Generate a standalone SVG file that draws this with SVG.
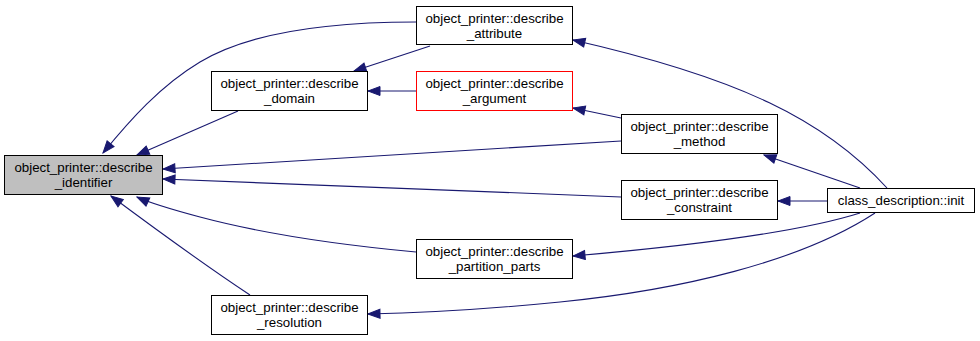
<svg xmlns="http://www.w3.org/2000/svg" width="980" height="341" viewBox="0 0 980 341">
  <style>
    .node rect { fill: #ffffff; stroke: #000000; stroke-width: 1; }
    .node.focus rect { fill: #bfbfbf; }
    .node.red rect { stroke: #ff0000; }
    .node text { font-family: "Liberation Sans", Arial, sans-serif; font-size: 13.3px; fill: #000000; text-anchor: middle; }
    .edge { fill: none; stroke: #191970; stroke-width: 1.1; marker-end: url(#arrow); }
  </style>
  <defs>
    <marker id="arrow" markerUnits="userSpaceOnUse" markerWidth="14" markerHeight="11" viewBox="0 0 14 11" refX="13" refY="5.5" orient="auto">
      <path d="M1,1 L13,5.5 L1,10 z" fill="#191970" stroke="#191970" stroke-width="1"/>
    </marker>
  </defs>

  <rect width="980" height="341" fill="#ffffff"/>

  <g id="edges">
    <!-- callers of describe_identifier -->
    <path class="edge" d="M416,22 C330,22 250,32 200,62 C160,86 130,120 103,153"/>
    <path class="edge" d="M238,111 L137,155"/>
    <path class="edge" d="M621,141 L163,169"/>
    <path class="edge" d="M621,197 L163,179"/>
    <path class="edge" d="M416,252 C330,244 260,233 200,217 C170,209 150,203 137,197"/>
    <path class="edge" d="M250,295 C200,262 150,225 111,196"/>
    <!-- callers of describe_domain -->
    <path class="edge" d="M430,46 L354,71"/>
    <path class="edge" d="M416,91 L368,91"/>
    <!-- describe_method calls describe_argument -->
    <path class="edge" d="M621,118 L573,108"/>
    <!-- class_description::init calls -->
    <path class="edge" d="M887,188 C825,120 740,78 573,40"/>
    <path class="edge" d="M860,188 L764,155"/>
    <path class="edge" d="M827,201 L778,201"/>
    <path class="edge" d="M860,213 C800,232 700,245 573,256"/>
    <path class="edge" d="M875,213 C800,262 680,290 560,302 C480,310 420,313 368,314"/>
  </g>

  <g id="node-identifier" class="node focus">
    <rect x="4.5" y="155.5" width="158" height="39"/>
    <text x="83.5" y="171.5">object_printer::describe</text>
    <text x="83.5" y="186.5">_identifier</text>
  </g>
  <g id="node-attribute" class="node">
    <rect x="416.5" y="6.5" width="156" height="38"/>
    <text x="494.5" y="22.5">object_printer::describe</text>
    <text x="494.5" y="37.5">_attribute</text>
  </g>
  <g id="node-domain" class="node">
    <rect x="211.5" y="71.5" width="156" height="39"/>
    <text x="289.5" y="87.5">object_printer::describe</text>
    <text x="289.5" y="102.5">_domain</text>
  </g>
  <g id="node-argument" class="node red">
    <rect x="416.5" y="71.5" width="156" height="39"/>
    <text x="494.5" y="87.5">object_printer::describe</text>
    <text x="494.5" y="102.5">_argument</text>
  </g>
  <g id="node-method" class="node">
    <rect x="621.5" y="114.5" width="156" height="39"/>
    <text x="699.5" y="130.5">object_printer::describe</text>
    <text x="699.5" y="145.5">_method</text>
  </g>
  <g id="node-constraint" class="node">
    <rect x="621.5" y="180.5" width="156" height="39"/>
    <text x="699.5" y="196.5">object_printer::describe</text>
    <text x="699.5" y="211.5">_constraint</text>
  </g>
  <g id="node-partition-parts" class="node">
    <rect x="416.5" y="239.5" width="156" height="39"/>
    <text x="494.5" y="255.5">object_printer::describe</text>
    <text x="494.5" y="270.5">_partition_parts</text>
  </g>
  <g id="node-resolution" class="node">
    <rect x="211.5" y="295.5" width="156" height="39"/>
    <text x="289.5" y="311.5">object_printer::describe</text>
    <text x="289.5" y="326.5">_resolution</text>
  </g>
  <g id="node-init" class="node">
    <rect x="827.5" y="188.5" width="147" height="24"/>
    <text x="901" y="204.5">class_description::init</text>
  </g>
</svg>
